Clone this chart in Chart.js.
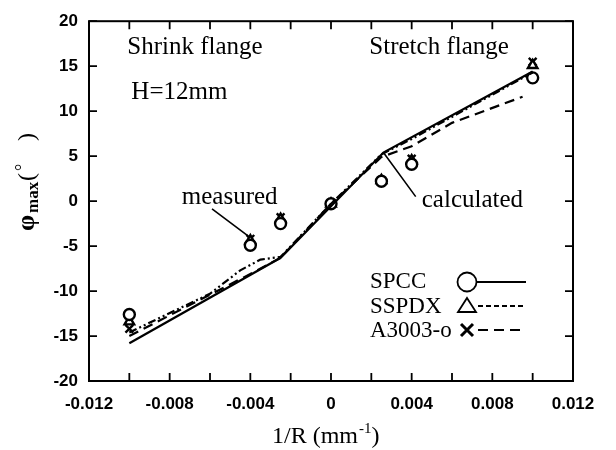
<!DOCTYPE html>
<html>
<head>
<meta charset="utf-8">
<script src="https://cdn.jsdelivr.net/npm/chart.js@4.4.0/dist/chart.umd.min.js"></script>
<style>
  html, body { margin: 0; padding: 0; background: #fff; }
  #wrap { width: 616px; height: 450px; }
</style>
</head>
<body>
<div id="wrap"><canvas id="c" width="616" height="450"></canvas></div>
<script>
// measured values (markers)
const xMeasured = [-0.010, -0.004, -0.0025, 0, 0.0025, 0.004, 0.010];
const spccMeasured = [-12.6, -4.9, -2.5, -0.3, 2.2, 4.1, 13.7];
const sspdxMeasured = [-13.4, -4.4, -2.0, -0.3, 2.3, 4.5, 15.1];
const a3003Measured = [-14.2, -4.2, -1.8, -0.3, 2.3, 4.7, 15.5];

// calculated curves
const spccCalcX = [-0.010, -0.0025, 0.0026, 0.010];
const spccCalc = [-15.8, -6.3, 5.4, 14.4];
const sspdxCalcX = [-0.010, -0.006, -0.0045, -0.0035, -0.0025, 0, 0.0025, 0.004, 0.010];
const sspdxCalc = [-14.6, -10.3, -7.7, -6.5, -6.2, -0.3, 5.2, 6.9, 14.3];
const a3003CalcX = [-0.010, -0.004, -0.0025, 0, 0.0025, 0.004, 0.006, 0.0095];
const a3003Calc = [-15.0, -8.1, -6.3, -0.3, 4.9, 6.1, 8.7, 11.6];

const materials = ['SPCC', 'SSPDX', 'A3003-o'];
const xTicks = { min: -0.012, max: 0.012, step: 0.002 };
const yTicks = { min: -20, max: 20, step: 5 };

const pts = (xs, ys) => xs.map((x, i) => ({ x: x, y: ys[i] }));

Chart.defaults.font.family = '"Liberation Sans", Arial, sans-serif';
Chart.defaults.color = '#000';

const lineDs = (label, xs, ys, dash) => ({
  label: label,
  data: pts(xs, ys),
  showLine: true,
  borderColor: '#000',
  borderWidth: 2.2,
  borderDash: dash,
  pointRadius: 0,
  fill: false,
  tension: 0
});

const markDs = (label, xs, ys, style) => ({
  label: label,
  data: pts(xs, ys),
  showLine: false,
  pointStyle: style,
  pointRadius: 5.5,
  pointBorderWidth: 2.4,
  pointBorderColor: '#000',
  pointBackgroundColor: '#fff'
});

const dashes = [[], [8, 3, 2, 3, 2, 3], [10, 6]];

// text notes placed in data coordinates
const notes = [
  { text: 'Shrink flange', x: -0.0101, y: 16.3 },
  { text: 'Stretch flange', x: 0.0019, y: 16.3 },
  { text: 'H=12mm', x: -0.0099, y: 11.3 },
  { text: 'measured', x: -0.0074, y: -0.33 },
  { text: 'calculated', x: 0.0045, y: -0.7 }
];
const leaders = [
  { from: [-0.0059, -0.87], to: [-0.0041, -3.9] },
  { from: [0.0026, 5.4], to: [0.0042, 0.5] }
];

const decor = {
  id: 'decor',
  afterDraw(chart) {
    const ctx = chart.ctx;
    const xs = chart.scales.x, ys = chart.scales.y;
    const a = chart.chartArea;
    ctx.save();
    ctx.strokeStyle = '#000';
    ctx.fillStyle = '#000';

    // frame
    ctx.lineWidth = 2;
    ctx.strokeRect(a.left, a.top, a.right - a.left, a.bottom - a.top);

    // inward ticks
    ctx.lineWidth = 1.8;
    ctx.beginPath();
    xs.ticks.forEach(t => {
      const p = xs.getPixelForValue(t.value);
      ctx.moveTo(p, a.bottom); ctx.lineTo(p, a.bottom - 8);
      ctx.moveTo(p, a.top); ctx.lineTo(p, a.top + 8);
    });
    ys.ticks.forEach(t => {
      const p = ys.getPixelForValue(t.value);
      ctx.moveTo(a.left, p); ctx.lineTo(a.left + 8, p);
      ctx.moveTo(a.right, p); ctx.lineTo(a.right - 8, p);
    });
    ctx.stroke();

    // notes
    ctx.font = '25px "Liberation Serif", serif';
    ctx.textAlign = 'left';
    ctx.textBaseline = 'alphabetic';
    notes.forEach(n => ctx.fillText(n.text, xs.getPixelForValue(n.x), ys.getPixelForValue(n.y)));
    ctx.lineWidth = 1.6;
    ctx.beginPath();
    leaders.forEach(l => {
      ctx.moveTo(xs.getPixelForValue(l.from[0]), ys.getPixelForValue(l.from[1]));
      ctx.lineTo(xs.getPixelForValue(l.to[0]), ys.getPixelForValue(l.to[1]));
    });
    ctx.stroke();

    // legend
    const legY = [288, 313, 337];
    const markY = [282, 306, 330];
    ctx.font = '23px "Liberation Serif", serif';
    materials.forEach((m, i) => {
      ctx.fillText(m, 370, legY[i]);
      const cx = 467, cy = markY[i];
      ctx.lineWidth = 1.8;
      ctx.beginPath();
      if (i === 0) {
        ctx.arc(cx, cy, 9.5, 0, Math.PI * 2);
      } else if (i === 1) {
        ctx.moveTo(cx, cy - 8); ctx.lineTo(cx + 9, cy + 6); ctx.lineTo(cx - 9, cy + 6); ctx.closePath();
      } else {
        ctx.lineWidth = 3;
        ctx.moveTo(cx - 6, cy - 6); ctx.lineTo(cx + 6, cy + 6);
        ctx.moveTo(cx + 6, cy - 6); ctx.lineTo(cx - 6, cy + 6);
      }
      ctx.stroke();
      ctx.lineWidth = 2.2;
      ctx.setLineDash(i === 1 ? [5, 3] : dashes[i]);
      ctx.beginPath();
      ctx.moveTo(i === 0 ? 477 : 478, cy);
      ctx.lineTo(526, cy);
      ctx.stroke();
      ctx.setLineDash([]);
    });

    // x axis title: 1/R (mm^-1)
    ctx.font = '24px "Liberation Serif", serif';
    let x0 = 272;
    const base = 443;
    const t1 = '1/R (mm';
    ctx.fillText(t1, x0, base);
    x0 += ctx.measureText(t1).width;
    ctx.font = '15px "Liberation Serif", serif';
    ctx.fillText('-1', x0 + 1, base - 10);
    x0 += ctx.measureText('-1').width + 1;
    ctx.font = '24px "Liberation Serif", serif';
    ctx.fillText(')', x0, base);

    // y axis title: phi max (deg)
    ctx.translate(34, 231);
    ctx.rotate(-Math.PI / 2);
    ctx.font = 'bold 26px "Liberation Serif", serif';
    ctx.fillText('\u03C6', 0, 0);
    ctx.font = 'bold 17px "Liberation Serif", serif';
    ctx.fillText('max', 18, 4);
    ctx.font = '24px "Liberation Serif", serif';
    ctx.fillText('(', 50, 0);
    ctx.font = '18px "Liberation Serif", serif';
    ctx.fillText('\u00B0', 60, -6);
    ctx.font = '24px "Liberation Serif", serif';
    ctx.fillText(')', 90, 0);

    ctx.restore();
  }
};

new Chart(document.getElementById('c'), {
  type: 'scatter',
  data: {
    datasets: [
      lineDs('SPCC calc', spccCalcX, spccCalc, dashes[0]),
      lineDs('SSPDX calc', sspdxCalcX, sspdxCalc, dashes[1]),
      lineDs('A3003-o calc', a3003CalcX, a3003Calc, dashes[2]),
      markDs('SPCC', xMeasured, spccMeasured, 'circle'),
      markDs('SSPDX', xMeasured, sspdxMeasured, 'triangle'),
      markDs('A3003-o', xMeasured, a3003Measured, 'crossRot')
    ]
  },
  options: {
    responsive: false,
    animation: false,
    layout: { padding: { top: 13, right: 43, left: 0, bottom: 0 } },
    plugins: {
      legend: { display: false },
      tooltip: { enabled: false }
    },
    scales: {
      x: {
        type: 'linear',
        min: xTicks.min,
        max: xTicks.max,
        afterFit(s) { s.height = 69; },
        grid: { display: false, drawTicks: false },
        border: { display: false },
        ticks: {
          stepSize: xTicks.step,
          autoSkip: false,
          maxRotation: 0,
          padding: 13,
          font: { size: 17, weight: 'bold' },
          callback(v) {
            const m = Math.round(v * 1000);
            if (m % 4 !== 0) return '';
            return m === 0 ? '0' : (m / 1000).toFixed(3);
          }
        }
      },
      y: {
        min: yTicks.min,
        max: yTicks.max,
        afterFit(s) { s.width = 89; },
        grid: { display: false, drawTicks: false },
        border: { display: false },
        ticks: {
          stepSize: yTicks.step,
          padding: 11,
          font: { size: 17, weight: 'bold' }
        }
      }
    }
  },
  plugins: [decor]
});
</script>
</body>
</html>
